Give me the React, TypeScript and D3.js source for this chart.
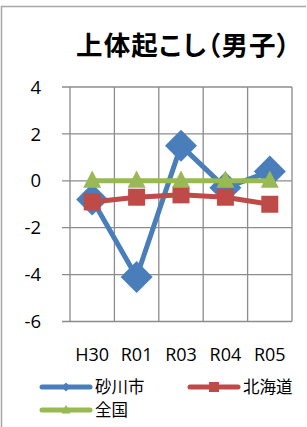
import React from 'react'
import * as d3 from 'd3'

// data
const years = ['H30', 'R01', 'R03', 'R04', 'R05']
const sunagawa = [-0.8, -4.1, 1.5, -0.3, 0.4]
const hokkaido = [-0.9, -0.7, -0.6, -0.7, -1.0]
const zenkoku = [0, 0, 0, 0, 0]
const yTicks = [4, 2, 0, -2, -4, -6]

const W = 307
const H = 427

const series = [
  { name: '砂川市', values: sunagawa, color: '#4A7EBB', marker: 'diamond' },
  { name: '北海道', values: hokkaido, color: '#BE4B48', marker: 'square' },
  { name: '全国', values: zenkoku, color: '#98B954', marker: 'triangle' },
]

const numFont = '"Open Sans", "Noto Sans", sans-serif'
const jpFont = '"Noto Sans CJK JP", sans-serif'

function marker(type: string, x: number, y: number, s: number, color: string, key?: any) {
  if (type === 'diamond') {
    const h = s / 2
    return <path key={key} d={`M${x},${y - h}L${x + h},${y}L${x},${y + h}L${x - h},${y}Z`} fill={color} />
  }
  if (type === 'square') {
    return <rect key={key} x={x - s / 2} y={y - s / 2} width={s} height={s} fill={color} />
  }
  const h = s * 0.95
  return <path key={key} d={`M${x},${y - h * 0.6}L${x + s / 2},${y + h * 0.4}L${x - s / 2},${y + h * 0.4}Z`} fill={color} />
}

export default function App() {
  const left = 70
  const right = 292
  const top = 87
  const bottom = 321.5

  const x = d3.scaleBand().domain(years).range([left, right])
  const y = d3.scaleLinear().domain([-6, 4]).range([bottom, top])
  const cx = (d: string) => (x(d) as number) + x.bandwidth() / 2

  const line = d3.line<number>()
    .x((_, i) => cx(years[i]))
    .y((v) => y(v))

  const markerSize: any = { diamond: 32, square: 17, triangle: 18 }
  const legendSize: any = { diamond: 9, square: 10, triangle: 9 }

  const legend = [
    { s: series[0], lx: 42, ly: 387 },
    { s: series[1], lx: 190, ly: 387 },
    { s: series[2], lx: 42, ly: 410 },
  ]

  return (
    <svg width={W} height={H} style={{ position: 'absolute', left: 0, top: 0, background: '#fff' }}>
      <path d={`M1.5,${H}V6.5H306`} fill="none" stroke="#A6A6A6" strokeWidth={1.5} />

      <text x={76} y={55} fontFamily={jpFont} fontWeight="bold" fontSize={26.5} fill="#000"
        style={{ fontFeatureSettings: '"palt"' }} textLength={214} lengthAdjust="spacing">
        上体起こし（男子）
      </text>

      {/* grid */}
      {yTicks.map((t) => (
        <line key={'h' + t} x1={left - 8} x2={right} y1={y(t)} y2={y(t)} stroke="#8C8C8C" strokeWidth={1.3} />
      ))}
      {years.map((d) => (
        <line key={'v' + d} x1={x(d)} x2={x(d)} y1={top} y2={bottom} stroke="#8C8C8C" strokeWidth={1.3} />
      ))}
      <line x1={right} x2={right} y1={top} y2={bottom} stroke="#8C8C8C" strokeWidth={1.3} />

      {yTicks.map((t) => (
        <text key={'yl' + t} x={41} y={y(t)} dy="0.36em" textAnchor="end" fontFamily={numFont} fontSize={18.5} fill="#000">
          {t}
        </text>
      ))}
      {years.map((d) => (
        <text key={'xl' + d} x={cx(d)} y={361} textAnchor="middle" fontFamily={numFont} fontSize={18} fill="#000">
          {d}
        </text>
      ))}

      {series.map((s) => (
        <g key={s.name}>
          <path d={line(s.values) as string} fill="none" stroke={s.color} strokeWidth={5} strokeLinejoin="round" />
          {s.values.map((v, i) => marker(s.marker, cx(years[i]), y(v), markerSize[s.marker], s.color, i))}
        </g>
      ))}

      {legend.map(({ s, lx, ly }) => (
        <g key={'lg' + s.name}>
          <line x1={lx} x2={lx + 48} y1={ly} y2={ly} stroke={s.color} strokeWidth={5} strokeLinecap="round" />
          {marker(s.marker, lx + 24, ly, legendSize[s.marker], s.color)}
          <text x={lx + 53} y={ly} dy="0.36em" fontFamily={jpFont} fontSize={16.5} fill="#000">
            {s.name}
          </text>
        </g>
      ))}
    </svg>
  )
}
